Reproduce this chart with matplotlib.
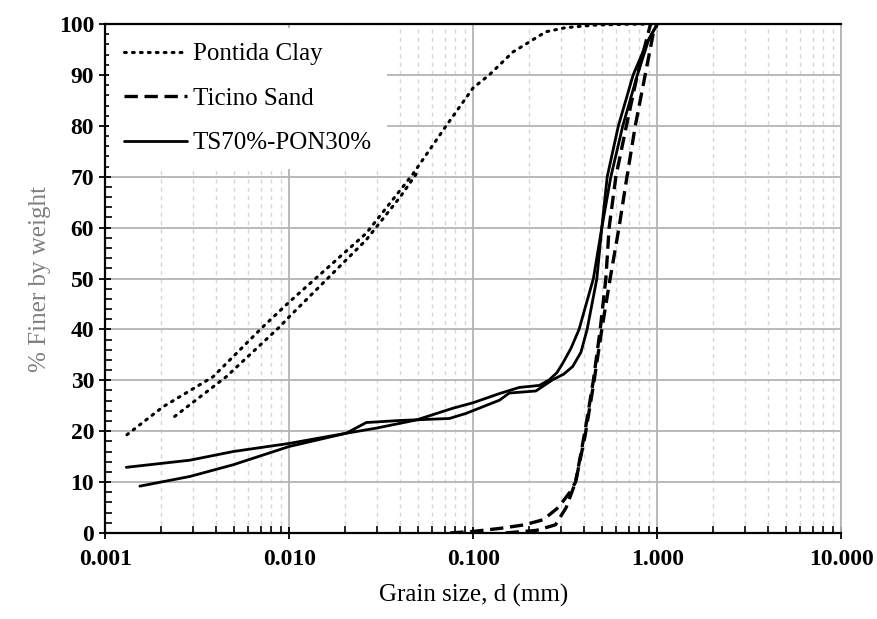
import matplotlib
matplotlib.use("Agg")
import matplotlib.pyplot as plt
from matplotlib.ticker import LogLocator, MultipleLocator, FixedLocator, FuncFormatter, NullFormatter

# Pontida Clay (two tests, the second one merges into the first above ~70 %)
clay1_d = [0.00131, 0.00206, 0.00385, 0.00718, 0.0100, 0.0262, 0.0469, 0.0712, 0.100, 0.122, 0.164, 0.248, 0.317, 0.45, 0.70, 1.00]
clay1_p = [19.3, 24.8, 30.7, 40.5, 45.4, 58.9, 70.5, 80.0, 87.5, 90.0, 94.5, 98.5, 99.3, 99.8, 100, 100]
clay2_d = [0.00238, 0.00454, 0.00886, 0.0100, 0.0262, 0.0400, 0.0500]
clay2_p = [22.9, 30.7, 40.5, 42.5, 57.6, 66.0, 71.0]

# Ticino Sand (two tests)
sand1_d = [0.075, 0.100, 0.140, 0.190, 0.240, 0.290, 0.335, 0.360, 0.405, 0.450, 0.490, 0.526, 0.548, 0.596, 0.680, 0.780, 0.920]
sand1_p = [0, 0.3, 0.9, 1.6, 2.6, 5.0, 8.0, 10, 20, 30, 40, 50, 60, 70, 80, 90, 100]
sand2_d = [0.150, 0.220, 0.280, 0.320, 0.360, 0.405, 0.450, 0.500, 0.555, 0.620, 0.685, 0.760, 0.860, 0.950, 1.000]
sand2_p = [0, 0.5, 1.6, 5.0, 10, 19, 29, 40, 50, 60, 70, 80, 90, 98, 100]

# TS70%-PON30% (two tests)
mix1_d = [0.0013, 0.00288, 0.00495, 0.0100, 0.0204, 0.0297, 0.049, 0.0773, 0.100, 0.139, 0.178, 0.229, 0.259, 0.285, 0.306, 0.340, 0.376, 0.450, 0.500, 0.560, 0.650, 0.780, 0.900, 1.000]
mix1_p = [12.9, 14.3, 16.0, 17.6, 19.6, 20.6, 22.2, 24.5, 25.6, 27.4, 28.6, 29.0, 30.1, 31.5, 33.3, 36.3, 40, 50, 60, 70, 80, 90, 97, 100]
mix2_d = [0.00154, 0.00288, 0.00495, 0.0100, 0.0204, 0.0262, 0.0397, 0.0742, 0.0914, 0.139, 0.157, 0.219, 0.270, 0.310, 0.347, 0.385, 0.416, 0.470, 0.500, 0.535, 0.615, 0.740, 0.870, 1.000]
mix2_p = [9.2, 11.1, 13.4, 17.0, 19.6, 21.7, 22.1, 22.5, 23.5, 26.1, 27.5, 27.9, 30.1, 31.2, 32.7, 35.5, 40, 50, 60, 70, 80, 90, 96, 100]

x_ticks = [0.001, 0.01, 0.1, 1, 10]
y_ticks = list(range(0, 101, 10))

plt.rcParams["font.family"] = ["Liberation Serif", "DejaVu Serif"]

fig = plt.figure(figsize=(8.78, 6.19), dpi=100)
ax = fig.add_axes([0.120, 0.139, 0.838, 0.822])

dot = dict(color="black", lw=2.2, ls=(0, (0.6, 2.0)), dash_capstyle="round")
dash = dict(color="black", lw=2.4, ls=(0, (4, 2)))
solid = dict(color="black", lw=2.0, solid_capstyle="round", solid_joinstyle="round")

ax.plot(clay1_d, clay1_p, label="Pontida Clay", **dot)
ax.plot(clay2_d, clay2_p, **dot)
ax.plot(sand1_d, sand1_p, label="Ticino Sand", **dash)
ax.plot(sand2_d, sand2_p, **dash)
ax.plot(mix1_d, mix1_p, label="TS70%-PON30%", **solid)
ax.plot(mix2_d, mix2_p, **solid)

ax.set_xscale("log")
ax.set_xlim(0.001, 10)
ax.set_ylim(0, 100)

ax.xaxis.set_major_locator(FixedLocator(x_ticks))
ax.xaxis.set_major_formatter(FuncFormatter(lambda v, p: f"{v:.3f}"))
ax.xaxis.set_minor_locator(LogLocator(base=10, subs=range(2, 10)))
ax.xaxis.set_minor_formatter(NullFormatter())
ax.yaxis.set_major_locator(FixedLocator(y_ticks))
ax.yaxis.set_minor_locator(MultipleLocator(2))

ax.grid(which="major", color="#b4b4b4", lw=1.3)
ax.grid(which="minor", axis="x", color="#d6d6d6", lw=1.0, ls=(0, (3, 3)))
ax.set_axisbelow(True)

for s in ("left", "bottom", "top"):
    ax.spines[s].set_linewidth(1.6)
    ax.spines[s].set_color("black")
ax.spines["right"].set_color("#b4b4b4")
ax.spines["right"].set_linewidth(1.3)

ax.tick_params(which="major", direction="inout", length=9, width=1.3, labelsize=17)
ax.tick_params(which="minor", direction="in", length=5, width=1.2)
ax.tick_params(axis="x", which="major", pad=7)
for lab in ax.get_xticklabels() + ax.get_yticklabels():
    lab.set_fontweight("bold")

ax.set_xlabel("Grain size, d (mm)", fontsize=18, labelpad=10)
ax.set_ylabel("% Finer by weight", fontsize=18, color="#808080", labelpad=6)

leg = ax.legend(loc="upper left", fontsize=18, frameon=True, fancybox=False,
                handlelength=2.5, handletextpad=0.25, labelspacing=0.88,
                borderaxespad=0.15, borderpad=0.6)
leg.get_frame().set_edgecolor("none")
leg.get_frame().set_facecolor("white")
leg.get_frame().set_alpha(1)

fig.savefig("out.png", dpi=100)
